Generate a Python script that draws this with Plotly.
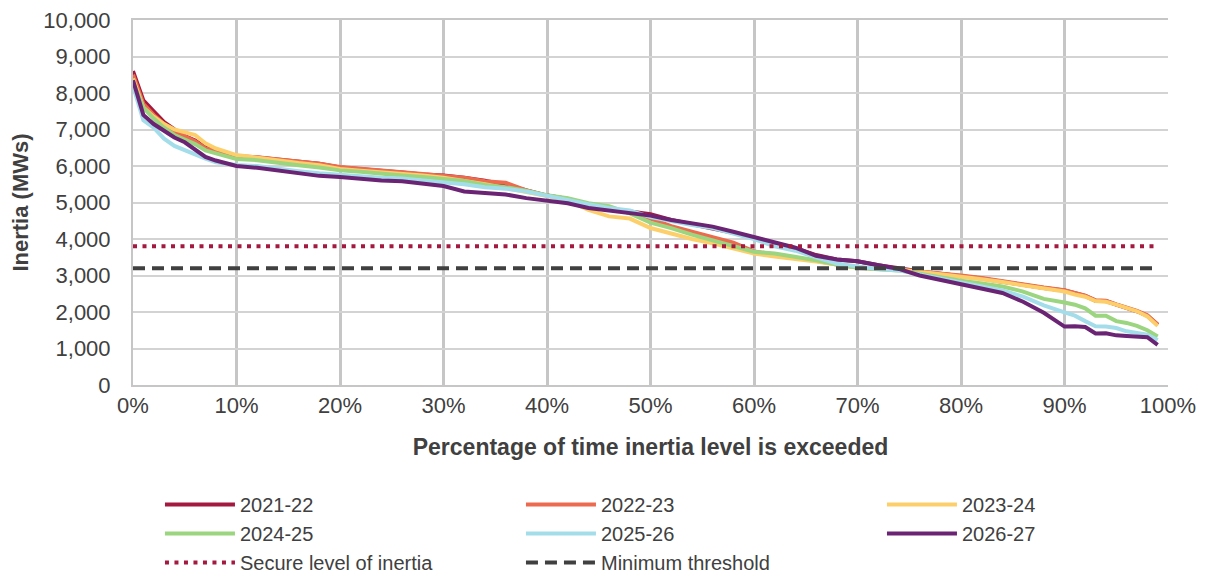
import plotly.graph_objects as go

pct = [0, 1, 2, 3, 4, 5, 6, 7, 8, 10, 12, 14, 16, 18, 20, 22, 24, 26, 28, 30, 32, 34, 36, 38, 40,
       42, 44, 46, 48, 50, 52, 54, 56, 58, 60, 62, 64, 66, 68, 70, 72, 74, 76, 78, 80, 82, 84, 86,
       88, 90, 91, 92, 93, 94, 95, 96, 97, 98, 99]

y2021_22 = [8600, 7800, 7500, 7200, 7000, 6820, 6700, 6500, 6400, 6260, 6230, 6170, 6110, 6060, 5960,
            5920, 5870, 5820, 5770, 5740, 5680, 5600, 5480, 5330, 5190, 5100, 4940, 4830, 4750, 4680,
            4520, 4400, 4300, 4170, 4020, 3890, 3750, 3560, 3440, 3390, 3280, 3200, 3110, 3050, 2990,
            2920, 2830, 2740, 2660, 2590, 2520, 2440, 2310, 2300, 2200, 2120, 2020, 1900, 1650]
y2022_23 = [8500, 7700, 7400, 7150, 6950, 6800, 6680, 6480, 6420, 6280, 6240, 6180, 6120, 6060, 5970,
            5930, 5880, 5830, 5780, 5730, 5680, 5580, 5540, 5330, 5190, 5100, 4940, 4830, 4720, 4560,
            4350, 4200, 4050, 3900, 3660, 3580, 3500, 3400, 3300, 3220, 3180, 3170, 3100, 3060, 3000,
            2930, 2840, 2750, 2670, 2600, 2520, 2450, 2320, 2310, 2210, 2130, 2030, 1910, 1660]
y2023_24 = [8400, 7600, 7350, 7150, 7000, 6930, 6850, 6620, 6480, 6300, 6220, 6150, 6080, 6020, 5920,
            5870, 5830, 5790, 5740, 5680, 5600, 5500, 5400, 5300, 5180, 5060, 4800, 4620, 4560, 4300,
            4150, 4000, 3880, 3740, 3600, 3520, 3460, 3380, 3300, 3220, 3190, 3160, 3100, 3040, 2960,
            2900, 2820, 2730, 2640, 2560, 2480, 2420, 2300, 2280, 2200, 2120, 2020, 1880, 1620]
y2024_25 = [8300, 7600, 7300, 7050, 6850, 6720, 6600, 6430, 6350, 6190, 6160, 6080, 6020, 5960, 5880,
            5840, 5780, 5740, 5700, 5650, 5590, 5480, 5420, 5320, 5200, 5120, 4980, 4900, 4700, 4450,
            4300, 4120, 3960, 3800, 3650, 3600, 3520, 3420, 3300, 3210, 3170, 3140, 3050, 2950, 2860,
            2780, 2700, 2560, 2360, 2260, 2200, 2100, 1900, 1900, 1750, 1700, 1620, 1500, 1330]
y2025_26 = [8200, 7250, 7050, 6750, 6550, 6430, 6320, 6200, 6100, 6030, 6000, 5920, 5860, 5800, 5770,
            5720, 5680, 5660, 5600, 5560, 5500, 5420, 5380, 5300, 5180, 5080, 4950, 4850, 4780, 4600,
            4480, 4380, 4300, 4150, 4000, 3800, 3680, 3500, 3330, 3250, 3180, 3140, 3030, 2920, 2820,
            2700, 2590, 2420, 2180, 1990, 1900, 1750, 1610, 1600, 1560, 1470, 1420, 1380, 1230]
y2026_27 = [8350, 7400, 7150, 6950, 6780, 6650, 6450, 6250, 6150, 6000, 5950, 5870, 5800, 5730, 5700,
            5640, 5600, 5580, 5510, 5450, 5300, 5250, 5220, 5120, 5060, 4980, 4850, 4780, 4720, 4640,
            4520, 4430, 4340, 4200, 4060, 3900, 3760, 3540, 3440, 3390, 3280, 3180, 3000, 2880, 2750,
            2650, 2520, 2280, 1980, 1600, 1610, 1590, 1410, 1420, 1360, 1340, 1330, 1310, 1100]

series_names = ["2021-22", "2022-23", "2023-24", "2024-25", "2025-26", "2026-27"]
series_values = [y2021_22, y2022_23, y2023_24, y2024_25, y2025_26, y2026_27]
series_colors = ["#A3193F", "#EC6A4E", "#FDCF6B", "#9BD57F", "#A3DDE9", "#6A2473"]

secure_level = 3800
minimum_threshold = 3200
ref_x = [0, 99]

x_ticks = [0, 10, 20, 30, 40, 50, 60, 70, 80, 90, 100]
x_tick_labels = ["0%", "10%", "20%", "30%", "40%", "50%", "60%", "70%", "80%", "90%", "100%"]
y_ticks = [0, 1000, 2000, 3000, 4000, 5000, 6000, 7000, 8000, 9000, 10000]

fig = go.Figure()
for name, vals, col in zip(series_names, series_values, series_colors):
    fig.add_trace(go.Scatter(x=pct, y=vals, mode="lines", name=name,
                             line=dict(color=col, width=4, shape="linear")))

fig.add_trace(go.Scatter(x=ref_x, y=[secure_level] * len(ref_x), mode="lines",
                         name="Secure level of inertia",
                         line=dict(color="#A3193F", width=4, dash="4px,5.5px")))
fig.add_trace(go.Scatter(x=ref_x, y=[minimum_threshold] * len(ref_x), mode="lines",
                         name="Minimum threshold",
                         line=dict(color="#404040", width=4, dash="12px,7px")))

font_family = "Liberation Sans, Arial, sans-serif"
fig.update_layout(
    width=1205, height=577,
    margin=dict(l=133, r=37, t=20, b=192, autoexpand=False),
    paper_bgcolor="white", plot_bgcolor="white",
    font=dict(family=font_family, color="#404040", size=20),
    showlegend=True,
    legend=dict(orientation="h", x=-0.001, xanchor="left", y=-0.197, yanchor="top",
                entrywidth=276, entrywidthmode="pixels", itemwidth=70,
                borderwidth=28, bordercolor="rgba(0,0,0,0)", bgcolor="rgba(0,0,0,0)",
                font=dict(size=20, color="#404040"), traceorder="normal",
                tracegroupgap=0),
    xaxis=dict(range=[0, 100], tickmode="array", tickvals=x_ticks, ticktext=x_tick_labels,
               showgrid=True, gridcolor="#C6C6C6", gridwidth=2.5,
               showline=True, linecolor="#C6C6C6", linewidth=2, mirror=True,
               zeroline=False, tickfont=dict(size=22, color="#404040"),
               ticklabelstandoff=0, automargin=False,
               title=dict(text="<b>Percentage of time inertia level is exceeded</b>",
                          font=dict(size=23, color="#404040"), standoff=21)),
    yaxis=dict(range=[0, 10000], tickvals=y_ticks, tickformat=",",
               showgrid=True, gridcolor="#D3D3D3", gridwidth=2,
               showline=True, linecolor="#C6C6C6", linewidth=2,
               zeroline=False, tickfont=dict(size=22, color="#404040"),
               ticklabelstandoff=16, automargin=False,
               title=dict(text="<b>Inertia (MWs)</b>",
                          font=dict(size=22, color="#404040"), standoff=9)),
)

fig.write_html("out.html", config={"displayModeBar": False},
               post_script="document.body.style.margin='0';")
